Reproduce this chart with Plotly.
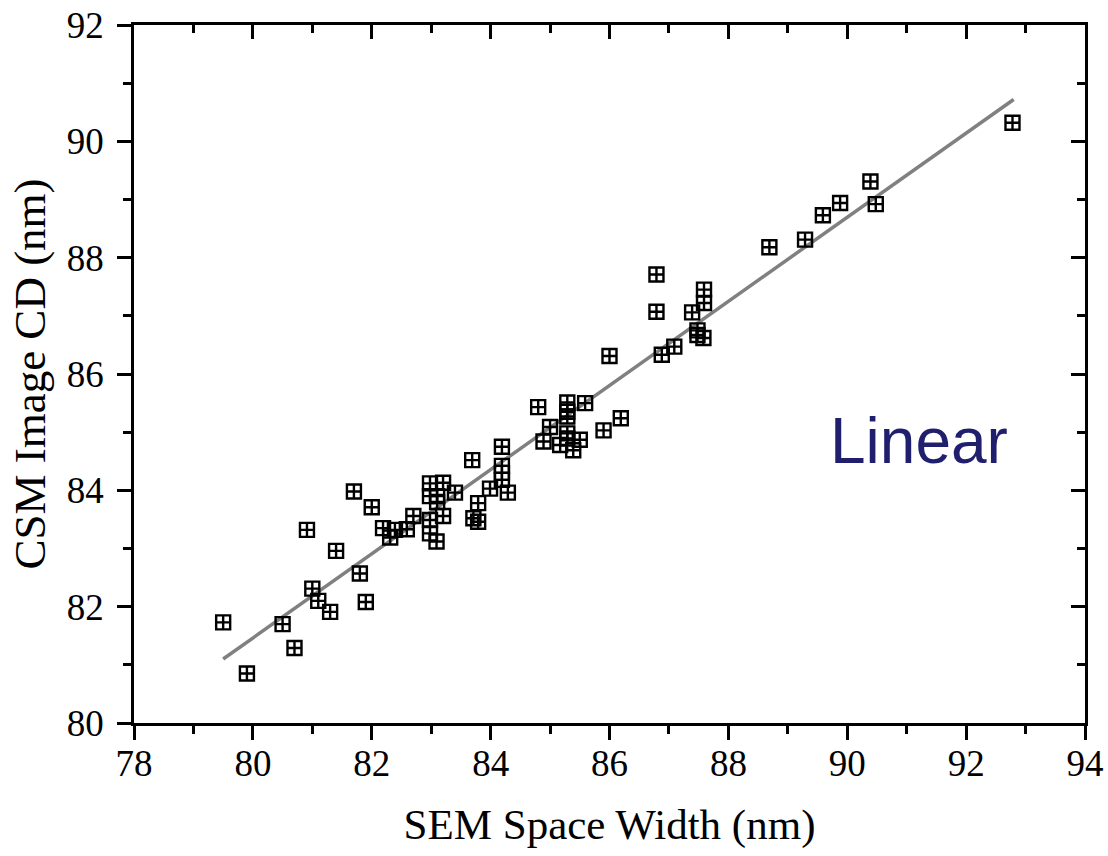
import plotly.graph_objects as go

sem_width = [79.50, 79.90, 80.50, 80.70, 80.91, 81.00, 81.10, 81.30, 81.40, 81.70,
             81.80, 81.90, 82.00, 82.19, 82.31, 82.39, 82.59, 82.70,
             82.98, 83.20, 82.98, 83.10, 83.40, 82.98, 83.20, 82.98, 83.09, 83.10,
             83.69, 83.79, 83.71, 83.79, 83.99, 84.19, 84.19, 84.19, 84.19, 84.29,
             84.80, 84.89, 85.00, 85.17, 85.29, 85.29, 85.29, 85.29, 85.29, 85.39,
             85.50, 85.59, 85.90, 86.00, 86.19,
             86.79, 86.79, 86.88, 87.09, 87.39, 87.48, 87.48, 87.58, 87.59, 87.59,
             88.69, 89.29, 89.59, 89.88, 90.39, 90.48, 92.78]
csm_cd = [81.73, 80.85, 81.70, 81.29, 83.32, 82.31, 82.10, 81.91, 82.96, 83.98,
          82.57, 82.08, 83.71, 83.35, 83.19, 83.32, 83.33, 83.56,
          84.12, 84.13, 83.90, 83.90, 83.96, 83.49, 83.56, 83.26, 83.12, 83.80,
          84.52, 83.78, 83.52, 83.46, 84.03, 84.75, 84.42, 84.30, 84.18, 83.96,
          85.43, 84.84, 85.09, 84.78, 85.51, 85.35, 85.27, 84.98, 84.89, 84.69,
          84.87, 85.50, 85.03, 86.31, 85.24,
          87.71, 87.07, 86.33, 86.47, 87.06, 86.67, 86.75, 86.62, 87.45, 87.22,
          88.18, 88.31, 88.73, 88.94, 89.31, 88.92, 90.32]

fit_x = [79.5, 92.8]
fit_y = [81.10, 90.72]

x_range = [78, 94]
y_range = [80, 92]

fig = go.Figure()
fig.add_trace(go.Scatter(x=fit_x, y=fit_y, mode="lines",
                         line=dict(color="#808080", width=3.5), showlegend=False))
fig.add_trace(go.Scatter(x=sem_width, y=csm_cd, mode="markers",
                         marker=dict(symbol="square-cross-open", size=14,
                                     color="black", line=dict(color="black", width=2.4)),
                         showlegend=False))
fig.add_trace(go.Scatter(x=[None], y=[None], xaxis="x2", yaxis="y2", showlegend=False))

fig.add_annotation(x=91.2, y=84.85, text="Linear", showarrow=False,
                   font=dict(family="Liberation Sans", size=64, color="#1f1f6e"))

tick_font = dict(family="Liberation Serif", size=37, color="black")
common = dict(showline=True, linecolor="black", linewidth=2.5, showgrid=False,
              zeroline=False, ticklen=14, tickwidth=2.5, tickcolor="black",
              automargin=False)

fig.update_layout(
    width=1108, height=856,
    margin=dict(l=134, r=23, t=25, b=133),
    plot_bgcolor="white", paper_bgcolor="white",
    xaxis=dict(range=x_range, dtick=2, ticks="outside", tickfont=tick_font,
               ticklabelstandoff=-8, ticklabeloverflow="allow",
               title=dict(text="SEM Space Width (nm)", standoff=26,
                          font=dict(family="Liberation Serif", size=43, color="black")),
               minor=dict(dtick=1, ticks="outside", ticklen=8, tickwidth=2.5, tickcolor="black"),
               **common),
    yaxis=dict(range=y_range, dtick=2, ticks="outside", tickfont=tick_font,
               ticklabelstandoff=6, ticklabeloverflow="allow",
               title=dict(text="CSM Image CD (nm)", standoff=8,
                          font=dict(family="Liberation Serif", size=45, color="black")),
               minor=dict(dtick=1, ticks="outside", ticklen=8, tickwidth=2.5, tickcolor="black"),
               **common),
    xaxis2=dict(range=x_range, dtick=2, ticks="inside", overlaying="x", side="top",
                showticklabels=False,
                minor=dict(dtick=1, ticks="inside", ticklen=8, tickwidth=2.5, tickcolor="black"),
                **common),
    yaxis2=dict(range=y_range, dtick=2, ticks="inside", overlaying="y", side="right",
                showticklabels=False,
                minor=dict(dtick=1, ticks="inside", ticklen=8, tickwidth=2.5, tickcolor="black"),
                **common),
)

fig.write_html("out.html", config={"displayModeBar": False},
               post_script="document.body.style.margin='0';document.body.style.overflow='hidden';")
